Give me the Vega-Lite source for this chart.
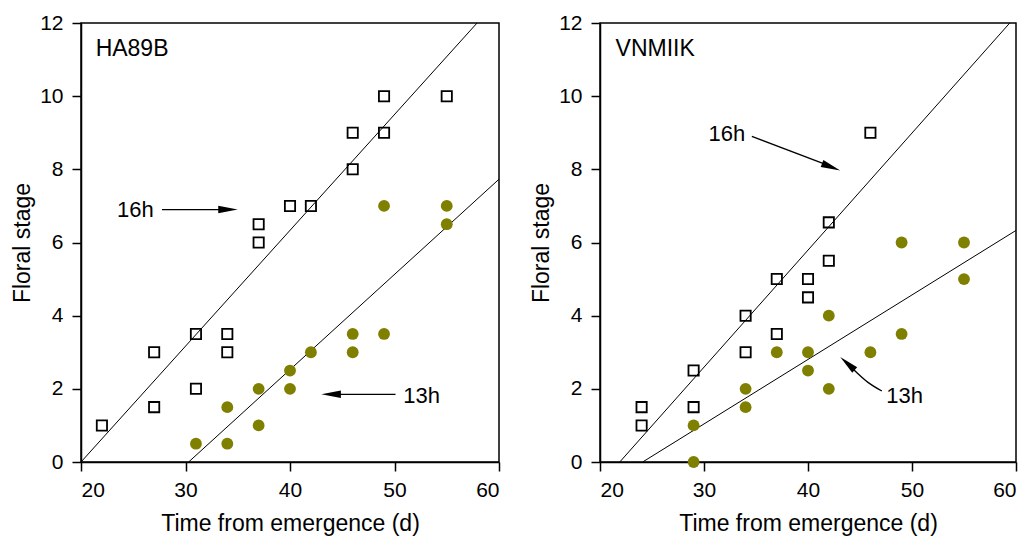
{
  "$schema": "https://vega.github.io/schema/vega-lite/v6.json",
  "background": "white",
  "padding": {"left": 10, "top": 11, "right": 5, "bottom": 5},
  "spacing": 27,
  "datasets": {
    "points": [
      {"panel": "HA89B", "photoperiod": "16h", "time": 22, "stage": 1},
      {"panel": "HA89B", "photoperiod": "16h", "time": 27, "stage": 1.5},
      {"panel": "HA89B", "photoperiod": "16h", "time": 27, "stage": 3},
      {"panel": "HA89B", "photoperiod": "16h", "time": 31, "stage": 2},
      {"panel": "HA89B", "photoperiod": "16h", "time": 31, "stage": 3.5},
      {"panel": "HA89B", "photoperiod": "16h", "time": 34, "stage": 3},
      {"panel": "HA89B", "photoperiod": "16h", "time": 34, "stage": 3.5},
      {"panel": "HA89B", "photoperiod": "16h", "time": 37, "stage": 6},
      {"panel": "HA89B", "photoperiod": "16h", "time": 37, "stage": 6.5},
      {"panel": "HA89B", "photoperiod": "16h", "time": 40, "stage": 7},
      {"panel": "HA89B", "photoperiod": "16h", "time": 42, "stage": 7},
      {"panel": "HA89B", "photoperiod": "16h", "time": 46, "stage": 8},
      {"panel": "HA89B", "photoperiod": "16h", "time": 46, "stage": 9},
      {"panel": "HA89B", "photoperiod": "16h", "time": 49, "stage": 9},
      {"panel": "HA89B", "photoperiod": "16h", "time": 49, "stage": 10},
      {"panel": "HA89B", "photoperiod": "16h", "time": 55, "stage": 10},
      {"panel": "HA89B", "photoperiod": "13h", "time": 31, "stage": 0.5},
      {"panel": "HA89B", "photoperiod": "13h", "time": 34, "stage": 0.5},
      {"panel": "HA89B", "photoperiod": "13h", "time": 34, "stage": 1.5},
      {"panel": "HA89B", "photoperiod": "13h", "time": 37, "stage": 1},
      {"panel": "HA89B", "photoperiod": "13h", "time": 37, "stage": 2},
      {"panel": "HA89B", "photoperiod": "13h", "time": 40, "stage": 2},
      {"panel": "HA89B", "photoperiod": "13h", "time": 40, "stage": 2.5},
      {"panel": "HA89B", "photoperiod": "13h", "time": 42, "stage": 3},
      {"panel": "HA89B", "photoperiod": "13h", "time": 46, "stage": 3},
      {"panel": "HA89B", "photoperiod": "13h", "time": 46, "stage": 3.5},
      {"panel": "HA89B", "photoperiod": "13h", "time": 49, "stage": 3.5},
      {"panel": "HA89B", "photoperiod": "13h", "time": 49, "stage": 7},
      {"panel": "HA89B", "photoperiod": "13h", "time": 55, "stage": 7},
      {"panel": "HA89B", "photoperiod": "13h", "time": 55, "stage": 6.5},
      {"panel": "VNMIIK", "photoperiod": "16h", "time": 24, "stage": 1},
      {"panel": "VNMIIK", "photoperiod": "16h", "time": 24, "stage": 1.5},
      {"panel": "VNMIIK", "photoperiod": "16h", "time": 29, "stage": 1.5},
      {"panel": "VNMIIK", "photoperiod": "16h", "time": 29, "stage": 2.5},
      {"panel": "VNMIIK", "photoperiod": "16h", "time": 34, "stage": 3},
      {"panel": "VNMIIK", "photoperiod": "16h", "time": 34, "stage": 4},
      {"panel": "VNMIIK", "photoperiod": "16h", "time": 37, "stage": 3.5},
      {"panel": "VNMIIK", "photoperiod": "16h", "time": 37, "stage": 5},
      {"panel": "VNMIIK", "photoperiod": "16h", "time": 40, "stage": 4.5},
      {"panel": "VNMIIK", "photoperiod": "16h", "time": 40, "stage": 5},
      {"panel": "VNMIIK", "photoperiod": "16h", "time": 42, "stage": 5.5},
      {"panel": "VNMIIK", "photoperiod": "16h", "time": 42, "stage": 6.55},
      {"panel": "VNMIIK", "photoperiod": "16h", "time": 46, "stage": 9},
      {"panel": "VNMIIK", "photoperiod": "13h", "time": 29, "stage": 0},
      {"panel": "VNMIIK", "photoperiod": "13h", "time": 29, "stage": 1},
      {"panel": "VNMIIK", "photoperiod": "13h", "time": 34, "stage": 1.5},
      {"panel": "VNMIIK", "photoperiod": "13h", "time": 34, "stage": 2},
      {"panel": "VNMIIK", "photoperiod": "13h", "time": 37, "stage": 3},
      {"panel": "VNMIIK", "photoperiod": "13h", "time": 40, "stage": 2.5},
      {"panel": "VNMIIK", "photoperiod": "13h", "time": 40, "stage": 3},
      {"panel": "VNMIIK", "photoperiod": "13h", "time": 42, "stage": 2},
      {"panel": "VNMIIK", "photoperiod": "13h", "time": 42, "stage": 4},
      {"panel": "VNMIIK", "photoperiod": "13h", "time": 46, "stage": 3},
      {"panel": "VNMIIK", "photoperiod": "13h", "time": 49, "stage": 3.5},
      {"panel": "VNMIIK", "photoperiod": "13h", "time": 49, "stage": 6},
      {"panel": "VNMIIK", "photoperiod": "13h", "time": 55, "stage": 5},
      {"panel": "VNMIIK", "photoperiod": "13h", "time": 55, "stage": 6}
    ],
    "fits": [
      {"panel": "HA89B", "photoperiod": "16h", "time": 20, "stage": 0},
      {"panel": "HA89B", "photoperiod": "16h", "time": 57.9, "stage": 12},
      {"panel": "HA89B", "photoperiod": "13h", "time": 30.3, "stage": 0},
      {"panel": "HA89B", "photoperiod": "13h", "time": 60, "stage": 7.73},
      {"panel": "VNMIIK", "photoperiod": "16h", "time": 21.9, "stage": 0},
      {"panel": "VNMIIK", "photoperiod": "16h", "time": 59.4, "stage": 12},
      {"panel": "VNMIIK", "photoperiod": "13h", "time": 24.1, "stage": 0},
      {"panel": "VNMIIK", "photoperiod": "13h", "time": 60, "stage": 6.33}
    ],
    "arrows": [
      {"panel": "HA89B", "arrow": "16h", "time": 27.75, "stage": 6.9},
      {"panel": "HA89B", "arrow": "16h", "time": 34.0, "stage": 6.9},
      {"panel": "HA89B", "arrow": "13h", "time": 44.0, "stage": 1.85},
      {"panel": "HA89B", "arrow": "13h", "time": 50.1, "stage": 1.85},
      {"panel": "VNMIIK", "arrow": "16h", "time": 34.6, "stage": 8.9},
      {"panel": "VNMIIK", "arrow": "16h", "time": 42.0, "stage": 8.1},
      {"panel": "VNMIIK", "arrow": "13h", "time": 47.1, "stage": 1.94},
      {"panel": "VNMIIK", "arrow": "13h", "time": 45.8, "stage": 2.17},
      {"panel": "VNMIIK", "arrow": "13h", "time": 44.3, "stage": 2.55}
    ],
    "heads": [
      {"panel": "HA89B", "arrow": "16h", "time": 35.0, "stage": 6.9},
      {"panel": "HA89B", "arrow": "13h", "time": 43.0, "stage": 1.85},
      {"panel": "VNMIIK", "arrow": "16h", "time": 43.1, "stage": 7.97},
      {"panel": "VNMIIK", "arrow": "13h", "time": 43.1, "stage": 2.87}
    ],
    "labels": [
      {"panel": "HA89B", "label": "16h", "time": 25.2, "stage": 6.88},
      {"panel": "HA89B", "label": "13h", "time": 52.6, "stage": 1.8},
      {"panel": "VNMIIK", "label": "16h", "time": 32.2, "stage": 8.96},
      {"panel": "VNMIIK", "label": "13h", "time": 49.3, "stage": 1.8}
    ],
    "names": [
      {"panel": "HA89B", "label": "HA89B", "time": 21.4, "stage": 11.09},
      {"panel": "VNMIIK", "label": "VNMIIK", "time": 21.5, "stage": 11.09}
    ]
  },
  "hconcat": [
    {
      "width": 418,
      "height": 439,
      "encoding": {
        "x": {"field": "time", "type": "quantitative", "scale": {"domain": [20, 60], "nice": false, "zero": false}, "axis": {"values": [20, 30, 40, 50, 60], "title": "Time from emergence (d)"}},
        "y": {"field": "stage", "type": "quantitative", "scale": {"domain": [0, 12], "nice": false, "zero": false}, "axis": {"values": [0, 2, 4, 6, 8, 10, 12], "title": "Floral stage"}}
      },
      "layer": [
        {"data": {"name": "fits"}, "transform": [{"filter": "datum.panel === 'HA89B'"}], "mark": {"type": "line", "color": "black", "strokeWidth": 1}, "encoding": {"detail": {"field": "photoperiod"}}},
        {"data": {"name": "arrows"}, "transform": [{"filter": "datum.panel === 'HA89B'"}], "mark": {"type": "line", "color": "black", "strokeWidth": 1.3}, "encoding": {"detail": {"field": "arrow"}}},
        {"data": {"name": "heads"}, "transform": [{"filter": "datum.panel === 'HA89B' && datum.arrow === '16h'"}], "mark": {"type": "point", "shape": "M0,0L-2,-0.38L-2,0.38Z", "filled": true, "color": "black", "opacity": 1, "size": 380, "angle": 0}},
        {"data": {"name": "heads"}, "transform": [{"filter": "datum.panel === 'HA89B' && datum.arrow === '13h'"}], "mark": {"type": "point", "shape": "M0,0L-2,-0.38L-2,0.38Z", "filled": true, "color": "black", "opacity": 1, "size": 380, "angle": 180}},
        {"data": {"name": "points"}, "transform": [{"filter": "datum.panel === 'HA89B' && datum.photoperiod === '16h'"}], "mark": {"type": "point", "shape": "square", "filled": false, "color": "black", "strokeWidth": 1.8, "size": 105, "opacity": 1}},
        {"data": {"name": "points"}, "transform": [{"filter": "datum.panel === 'HA89B' && datum.photoperiod === '13h'"}], "mark": {"type": "circle", "color": "#7f7f00", "size": 140, "opacity": 1}},
        {"data": {"name": "labels"}, "transform": [{"filter": "datum.panel === 'HA89B'"}], "mark": {"type": "text", "fontSize": 22, "color": "black", "align": "center", "baseline": "middle"}, "encoding": {"text": {"field": "label"}}},
        {"data": {"name": "names"}, "transform": [{"filter": "datum.panel === 'HA89B'"}], "mark": {"type": "text", "fontSize": 23, "color": "black", "align": "left", "baseline": "alphabetic"}, "encoding": {"text": {"field": "label"}}}
      ]
    },
    {
      "width": 416,
      "height": 439,
      "encoding": {
        "x": {"field": "time", "type": "quantitative", "scale": {"domain": [20, 60], "nice": false, "zero": false}, "axis": {"values": [20, 30, 40, 50, 60], "title": "Time from emergence (d)"}},
        "y": {"field": "stage", "type": "quantitative", "scale": {"domain": [0, 12], "nice": false, "zero": false}, "axis": {"values": [0, 2, 4, 6, 8, 10, 12], "title": "Floral stage"}}
      },
      "layer": [
        {"data": {"name": "fits"}, "transform": [{"filter": "datum.panel === 'VNMIIK'"}], "mark": {"type": "line", "color": "black", "strokeWidth": 1}, "encoding": {"detail": {"field": "photoperiod"}}},
        {"data": {"name": "arrows"}, "transform": [{"filter": "datum.panel === 'VNMIIK'"}], "mark": {"type": "line", "color": "black", "strokeWidth": 1.3, "interpolate": "monotone"}, "encoding": {"detail": {"field": "arrow"}}},
        {"data": {"name": "heads"}, "transform": [{"filter": "datum.panel === 'VNMIIK' && datum.arrow === '16h'"}], "mark": {"type": "point", "shape": "M0,0L-2,-0.38L-2,0.38Z", "filled": true, "color": "black", "opacity": 1, "size": 380, "angle": 21}},
        {"data": {"name": "heads"}, "transform": [{"filter": "datum.panel === 'VNMIIK' && datum.arrow === '13h'"}], "mark": {"type": "point", "shape": "M0,0L-2,-0.38L-2,0.38Z", "filled": true, "color": "black", "opacity": 1, "size": 380, "angle": 222}},
        {"data": {"name": "points"}, "transform": [{"filter": "datum.panel === 'VNMIIK' && datum.photoperiod === '16h'"}], "mark": {"type": "point", "shape": "square", "filled": false, "color": "black", "strokeWidth": 1.8, "size": 105, "opacity": 1}},
        {"data": {"name": "points"}, "transform": [{"filter": "datum.panel === 'VNMIIK' && datum.photoperiod === '13h'"}], "mark": {"type": "circle", "color": "#7f7f00", "size": 140, "opacity": 1}},
        {"data": {"name": "labels"}, "transform": [{"filter": "datum.panel === 'VNMIIK'"}], "mark": {"type": "text", "fontSize": 22, "color": "black", "align": "center", "baseline": "middle"}, "encoding": {"text": {"field": "label"}}},
        {"data": {"name": "names"}, "transform": [{"filter": "datum.panel === 'VNMIIK'"}], "mark": {"type": "text", "fontSize": 23, "color": "black", "align": "left", "baseline": "alphabetic"}, "encoding": {"text": {"field": "label"}}}
      ]
    }
  ],
  "config": {
    "font": "Liberation Sans",
    "view": {"stroke": "black", "strokeWidth": 1.5},
    "axis": {
      "grid": false,
      "domainColor": "black",
      "domainWidth": 1.5,
      "tickColor": "black",
      "tickWidth": 1.5,
      "tickSize": 9,
      "labelFontSize": 21,
      "labelColor": "black",
      "titleFontSize": 23,
      "titleFontWeight": "normal",
      "titleColor": "black"
    },
    "axisX": {"labelPadding": 8, "titlePadding": 12},
    "axisY": {"labelPadding": 9, "titlePadding": 5}
  }
}
